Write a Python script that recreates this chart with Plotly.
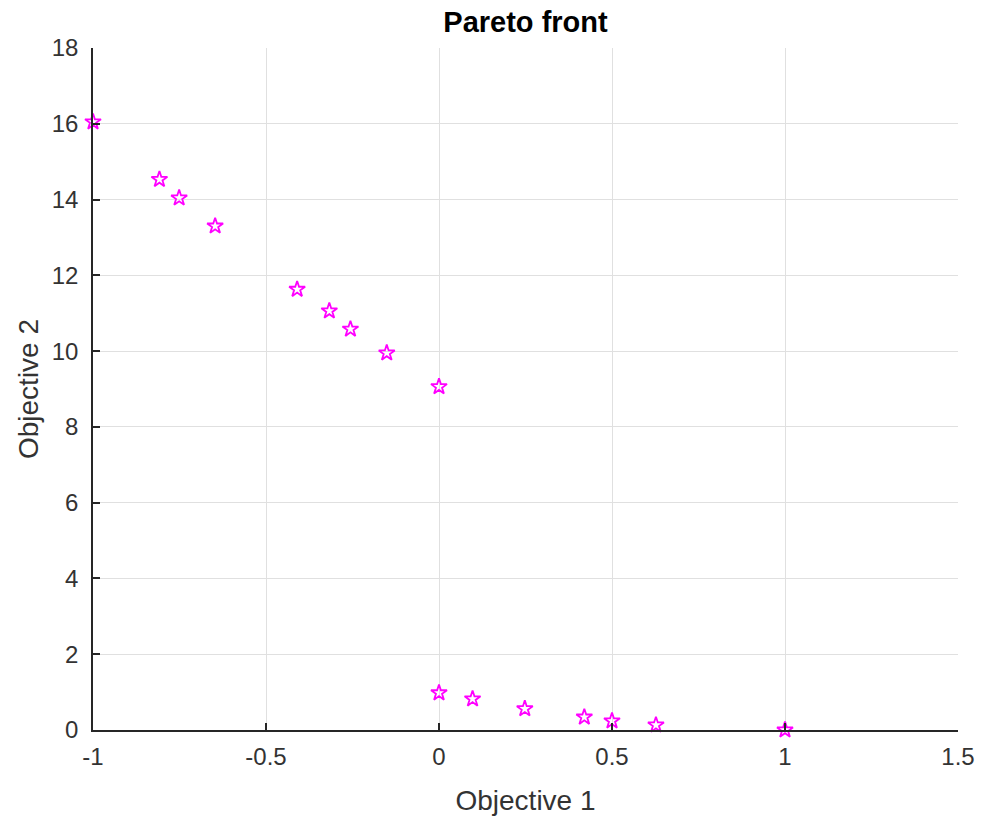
import plotly.graph_objects as go

objective1 = [-1.0, -0.808, -0.751, -0.647, -0.410, -0.317, -0.256, -0.151, 0.0,
              0.0, 0.097, 0.248, 0.420, 0.500, 0.627, 1.0]
objective2 = [16.05, 14.53, 14.04, 13.30, 11.63, 11.06, 10.58, 9.95, 9.06,
              0.98, 0.82, 0.56, 0.34, 0.24, 0.13, 0.0]

x_ticks = [-1, -0.5, 0, 0.5, 1, 1.5]
x_tick_labels = ["-1", "-0.5", "0", "0.5", "1", "1.5"]
y_ticks = [0, 2, 4, 6, 8, 10, 12, 14, 16, 18]

axis_col = "#262626"
text_col = "#333333"
grid_col = "#e0e0e0"
font_fam = "Arial, Liberation Sans, sans-serif"

W, H = 982, 817

fig = go.Figure()
fig.add_trace(go.Scatter(
    x=objective1, y=objective2, mode="markers",
    marker=dict(symbol="star-open", size=12, color="#ff00ff",
                line=dict(width=1.8, color="#ff00ff")),
    showlegend=False, cliponaxis=False,
))

fig.update_layout(
    width=W, height=H,
    margin=dict(l=93, r=24, t=48, b=87, autoexpand=False),
    paper_bgcolor="white", plot_bgcolor="white",
    font=dict(family=font_fam, color=text_col, size=24),
    title=dict(text="<b>Pareto front</b>", x=0.5, xanchor="center", xref="paper",
               y=1 - 22 / H, yanchor="middle",
               font=dict(size=29, color="black", family=font_fam)),
    xaxis=dict(range=[-1, 1.5], tickvals=x_ticks, ticktext=x_tick_labels,
               automargin=False,
               showgrid=True, gridcolor=grid_col, gridwidth=1,
               zeroline=False, showline=True, linecolor=axis_col, linewidth=1.5,
               ticks="inside", ticklen=7, tickcolor=axis_col, tickwidth=1.5,
               ticklabelstandoff=4,
               tickfont=dict(size=24, color=text_col),
               title=dict(text="Objective 1", font=dict(size=28, color=text_col), standoff=22)),
    yaxis=dict(range=[0, 18], tickvals=y_ticks,
               automargin=False,
               showgrid=True, gridcolor=grid_col, gridwidth=1,
               zeroline=False, showline=True, linecolor=axis_col, linewidth=1.5,
               ticks="inside", ticklen=7, tickcolor=axis_col, tickwidth=1.5,
               ticklabelstandoff=8,
               tickfont=dict(size=24, color=text_col),
               title=dict(text="Objective 2", font=dict(size=28, color=text_col), standoff=5)),
)

fig.write_html("out.html",
               config={"displayModeBar": False},
               post_script="document.body.style.margin='0';document.body.style.overflow='hidden';")
